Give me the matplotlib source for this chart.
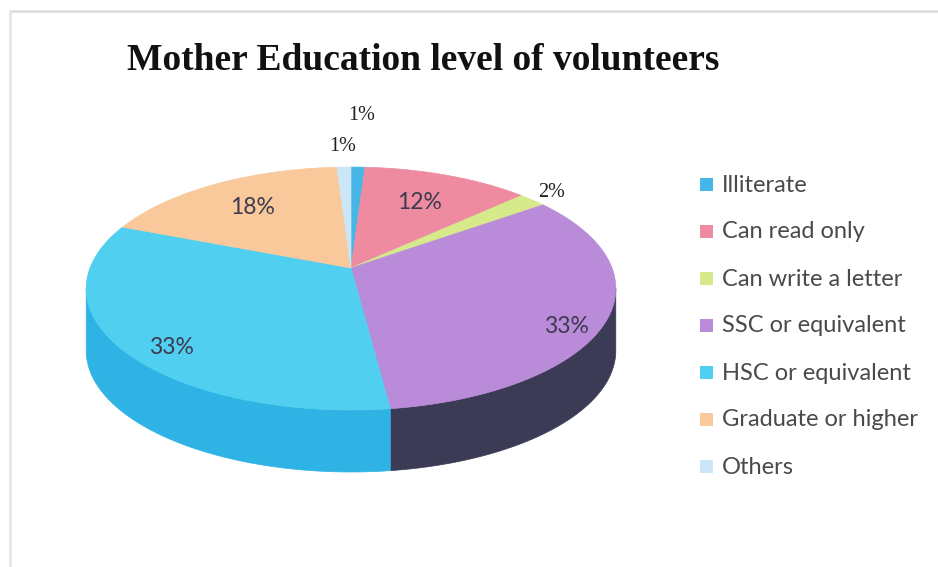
import numpy as np
import matplotlib.pyplot as plt
from matplotlib.patches import Polygon, Rectangle

# data
categories = ["Illiterate", "Can read only", "Can write a letter", "SSC or equivalent",
              "HSC or equivalent", "Graduate or higher", "Others"]
percent = [1, 12, 2, 33, 33, 18, 1]
top_colors = ["#45b6e6", "#ee8ba1", "#d6ea8c", "#b98bd9", "#50cff0", "#f9c89b", "#cbe6f7"]
side_colors = ["#2f9fd0", "#c9667d", "#b0c46a", "#3c3b55", "#2eb3e4", "#d9a775", "#a9c9de"]
title = "Mother Education level of volunteers"

# layout of the tilted pie (pixel space)
hx, hy = 351, 268        # hub
rx, ry = 261, 118        # radii before perspective
k = 0.169                # perspective strength
depth = 62
label_r = [1.65, 0.68, 1.12, 0.85, 0.80, 0.70, 1.25]
label_dy = [0, 0, 0, 16, 16, 0, 0]


def proj(theta, r=1.0):
    t = np.radians(theta)
    u = r * np.sin(t)
    v = r * np.cos(t)
    den = 1 + k * v
    return hx + rx * u / den, hy - ry * v / den


fig = plt.figure(figsize=(9.38, 5.67), dpi=100)
ax = fig.add_axes([0, 0, 1, 1])
ax.set_xlim(0, 938)
ax.set_ylim(567, 0)
ax.axis("off")

# frame
ax.plot([10, 938], [11, 11], color="#dedede", lw=2)
ax.plot([10, 10], [11, 567], color="#e6e6e6", lw=2)

fracs = np.array(percent) / sum(percent)
bounds = np.concatenate([[0], np.cumsum(fracs)]) * 360
lo = 90 + np.degrees(np.arcsin(k))
hi = 270 - np.degrees(np.arcsin(k))

# side walls (front half only)
for i in range(len(percent)):
    a0, a1 = max(bounds[i], lo), min(bounds[i + 1], hi)
    if a1 <= a0:
        continue
    th = np.linspace(a0, a1, 80)
    xs, ys = proj(th)
    pts = np.column_stack([np.r_[xs, xs[::-1]], np.r_[ys, ys[::-1] + depth]])
    ax.add_patch(Polygon(pts, closed=True, fc=side_colors[i], ec=side_colors[i], lw=0.5))

# top faces
for i in range(len(percent)):
    th = np.linspace(bounds[i], bounds[i + 1], 120)
    xs, ys = proj(th)
    pts = np.column_stack([np.r_[hx, xs], np.r_[hy, ys]])
    ax.add_patch(Polygon(pts, closed=True, fc=top_colors[i], ec=top_colors[i], lw=0.5))

# data labels
for i, p in enumerate(percent):
    mid = (bounds[i] + bounds[i + 1]) / 2
    x, y = proj(mid, label_r[i])
    if label_r[i] > 1:
        ax.text(x, y + label_dy[i], f"{p}%", ha="center", va="center",
                fontsize=14.5, family="Liberation Serif", color="#222222")
    else:
        ax.text(x, y + label_dy[i], f"{p}%", ha="center", va="center",
                fontsize=16.5, family="Lato", color="#3d3a4e")

ax.text(423, 61, title, ha="center", va="center", fontsize=27,
        family="Liberation Serif", fontweight="bold", color="#111111")

# legend
for i, name in enumerate(categories):
    y = 185 + i * 47.0
    ax.add_patch(Rectangle((700, y - 7), 13, 13, fc=top_colors[i], ec="none"))
    ax.text(722, y, name, ha="left", va="center", fontsize=17,
            family="Lato", color="#4a4a4a")

fig.savefig("out.png", dpi=100)
